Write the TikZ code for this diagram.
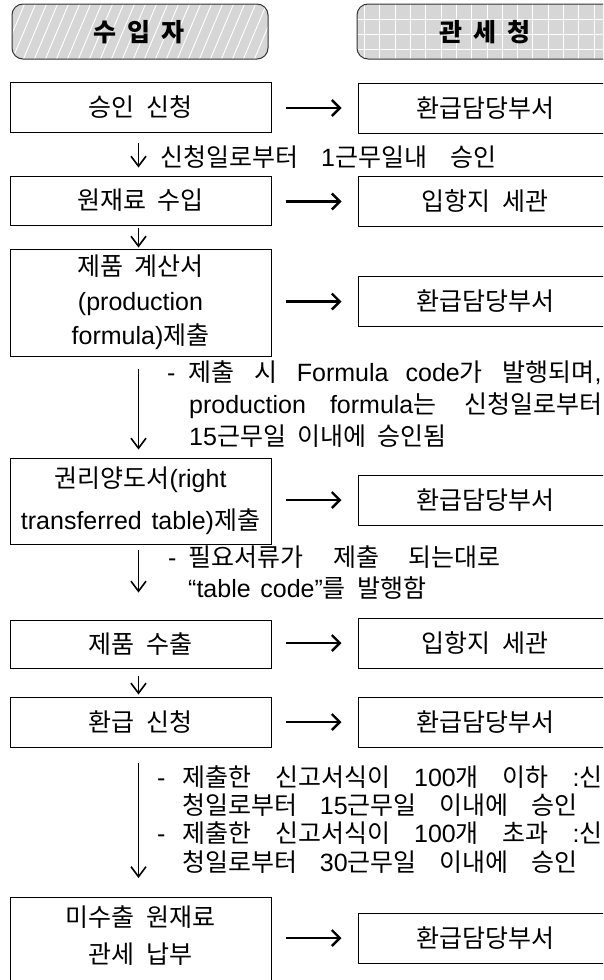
\documentclass[tikz,border=0pt]{standalone}
\usepackage{fontspec}
\setmainfont{Noto Sans CJK KR}[WordSpace=2]
\newfontfamily\latinf{Liberation Sans}[WordSpace=1.4]
\newcommand\ltn[1]{{\latinf #1}}
\usetikzlibrary{arrows.meta}
\definecolor{hdrgray}{HTML}{D6D6D6}
\tikzset{
  every node/.style={font=\fontsize{25pt}{30pt}\selectfont, inner sep=0pt},
  lbox/.style={draw, line width=1pt, minimum width=261pt, align=center},
  rbox/.style={draw, line width=1pt, minimum width=254pt, minimum height=50pt, align=center},
  hdrline/.style={draw=black!80, line width=1pt, rounded corners=11pt, minimum height=55pt},
  hdrtext/.style={font=\bfseries\fontsize{25pt}{30pt}\selectfont},
  rarr/.style={line width=2.4pt, -{Straight Barb[length=8pt,width=16pt]}, shorten <=14pt, shorten >=16pt},
  darr/.style={line width=1.6pt, -{Straight Barb[length=10pt,width=15pt]}},
  txt/.style={anchor=base west},
}
\begin{document}
\begin{tikzpicture}[x=1pt,y=-1pt]
\path[use as bounding box] (0,0) rectangle (603,980);
\clip (0,0) rectangle (603,980);
% left header
\fill[hdrgray, rounded corners=11pt] (12,4) rectangle (268,59);
\begin{scope}
  \clip[rounded corners=11pt] (12,4) rectangle (268,59);
  \foreach \i in {0,...,26} \draw[white, line width=0.9pt] ({-10+11*\i},60) -- ({14+11*\i},3);
\end{scope}
\node[hdrline, minimum width=256pt] (hl) at (140,31.5) {};
\node[hdrtext] (hlt) at (139,32) {수 입 자};
% right header
\fill[hdrgray, rounded corners=11pt] (357,4) rectangle (640,59);
\begin{scope}
  \clip[rounded corners=11pt] (357,4) rectangle (640,59);
  \foreach \i in {-9,...,8} \draw[white, line width=0.9pt] ({487+15.3*\i},3) -- ({487+15.3*\i},60);
  \foreach \j in {19,34,49} \draw[white, line width=0.9pt] (350,\j) -- (640,\j);
\end{scope}
\node[hdrline, minimum width=283pt] (hr) at (498.5,31.5) {};
\node[hdrtext] (hrt) at (485,32) {관 세 청};
% left column
\node[lbox, minimum height=50pt] (b1) at (140.5,107) {승인 신청};
\node[lbox, minimum height=49pt] (b2) at (140.5,200.5) {원재료 수입};
\node[lbox, minimum height=107pt, font=\fontsize{25pt}{34.5pt}\selectfont] (b3) at (140.5,302.5)
  {제품 계산서\\\ltn{(production}\\\ltn{formula)}제출};
\node[lbox, minimum height=86pt, font=\fontsize{25pt}{42pt}\selectfont] (b4) at (140.5,501)
  {권리양도서\ltn{(right}\\\ltn{transferred table)}제출};
\node[lbox, minimum height=48pt] (b5) at (140.5,644) {제품 수출};
\node[lbox, minimum height=50pt] (b6) at (140.5,722) {환급 신청};
\node[lbox, minimum height=110pt, anchor=north] (b7) at (140.5,897) {};
\node[align=center, font=\fontsize{25pt}{37pt}\selectfont] (b7t) at (140.5,935.5) {미수출 원재료\\관세 납부};
% right column
\node[rbox] (r1) at (485,108) {환급담당부서};
\node[rbox] (r2) at (485,201.5) {입항지 세관};
\node[rbox] (r3) at (485,301.5) {환급담당부서};
\node[rbox] (r4) at (485,500) {환급담당부서};
\node[rbox] (r5) at (485,643) {입항지 세관};
\node[rbox] (r6) at (485,722) {환급담당부서};
\node[rbox] (r7) at (485,938) {환급담당부서};
% horizontal arrows
\foreach \l/\r in {b1/r1,b2/r2,b3/r3,b4/r4,b5/r5,b6/r6,b7/r7}
  \draw[rarr] (\r.west -| \l.east) -- (\r.west);
% vertical arrows
\draw[darr, shorten <=10pt, shorten >=8pt] ([xshift=-2pt]b1.south) -- ([xshift=-2pt]b2.north);
\draw[darr, shorten <=2pt, shorten >=1pt] ([xshift=-2pt]b2.south) -- ([xshift=-2pt]b3.north);
\draw[darr, shorten <=12pt, shorten >=8pt] ([xshift=-2pt]b3.south) -- ([xshift=-2pt]b4.north);
\draw[darr, shorten <=5pt, shorten >=27pt] ([xshift=-2pt]b4.south) -- ([xshift=-2pt]b5.north);
\draw[darr, shorten <=7pt, shorten >=2pt] ([xshift=-2pt]b5.south) -- ([xshift=-2pt]b6.north);
\draw[darr, shorten <=15pt, shorten >=19pt] ([xshift=-2pt]b6.south) -- ([xshift=-2pt]b7.north);
% labels
\node[txt] (t1) at (160,166) {\makebox[336pt][s]{신청일로부터 \ltn{1}근무일내 승인}};
\node[txt] (t2a) at (167,381) {\ltn{-}\hspace{13pt}\makebox[413pt][s]{제출 시 \ltn{Formula code}가 발행되며\ltn{,}}};
\node[txt] (t2b) at (189,413) {\makebox[413pt][s]{\ltn{production formula}는 신청일로부터}};
\node[txt] (t2c) at (189,445) {\ltn{15}근무일 이내에 승인됨};
\node[txt] (t3a) at (168,566) {\ltn{-}\hspace{12pt}\makebox[312pt][s]{필요서류가 제출 되는대로}};
\node[txt] (t3b) at (188,597) {\ltn{“table code”}를 발행함};
\node[txt] (t4a) at (157,786) {\ltn{-}\hspace{17pt}\makebox[420pt][s]{제출한 신고서식이 \ltn{100}개 이하 \ltn{:}신}};
\node[txt] (t4b) at (182,814) {\makebox[395pt][s]{청일로부터 \ltn{15}근무일 이내에 승인}};
\node[txt] (t4c) at (157,842) {\ltn{-}\hspace{17pt}\makebox[420pt][s]{제출한 신고서식이 \ltn{100}개 초과 \ltn{:}신}};
\node[txt] (t4d) at (182,871) {\makebox[395pt][s]{청일로부터 \ltn{30}근무일 이내에 승인}};
\end{tikzpicture}
\end{document}
